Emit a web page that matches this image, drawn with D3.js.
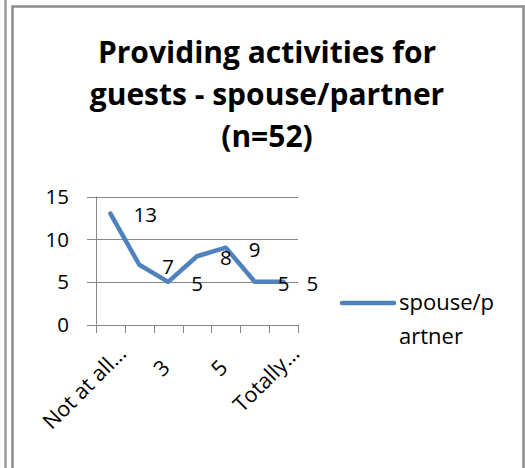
<!DOCTYPE html>
<html>
<head>
<meta charset="utf-8">
<script src="https://cdn.jsdelivr.net/npm/d3@7"></script>
<style>
  body { margin: 0; background: white; }
  svg { display: block; }
  text { font-family: "Open Sans", sans-serif; fill: #000; }
</style>
</head>
<body>
<div id="container"></div>
<script>
let w = 525;
let h = 468;

// DATA
let categories = ["Not at all…", "2", "3", "4", "5", "6", "Totally…"];
let values = [13, 7, 5, 8, 9, 5, 5];
let yTicks = [0, 5, 10, 15];
let seriesName = "spouse/partner";
let titleLines = ["Providing activities for", "guests - spouse/partner", "(n=52)"];

let viz = d3.select("#container").append("svg")
    .attr("width", w)
    .attr("height", h)
;

// frame lines
viz.append("line")
    .attr("x1", 5.5).attr("x2", 5.5).attr("y1", 0).attr("y2", h)
    .attr("stroke", "#999").attr("stroke-width", 2.5);
viz.append("rect")
    .attr("x", 12.5).attr("y", 6.5)
    .attr("width", 511).attr("height", h + 20)
    .attr("fill", "white")
    .attr("stroke", "#8c8c8c").attr("stroke-width", 2.5);

// TITLE
viz.selectAll(".title").data(titleLines).enter()
  .append("text")
    .attr("class", "title")
    .attr("x", 267)
    .attr("y", function(d, i) { return 63 + i * 42; })
    .attr("text-anchor", "middle")
    .style("font-weight", "bold")
    .style("font-size", "30px")
    .text(function(d) { return d; })
;

// SCALES
let xScale = d3.scaleBand().domain(categories).range([96, 298]);
let yScale = d3.scaleLinear().domain([0, 15]).range([324.5, 196.5]);
let cx = function(d) { return xScale(d) + xScale.bandwidth() / 2; };

// gridlines
viz.selectAll(".grid").data(yTicks).enter()
  .append("line")
    .attr("x1", 87).attr("x2", 298)
    .attr("y1", function(d) { return Math.round(yScale(d)) + 0.5; })
    .attr("y2", function(d) { return Math.round(yScale(d)) + 0.5; })
    .attr("stroke", "#868686")
;
// y axis line
viz.append("line")
    .attr("x1", 96.5).attr("x2", 96.5)
    .attr("y1", yScale(15)).attr("y2", yScale(0))
    .attr("stroke", "#868686");

// x ticks
let tickPos = categories.map(function(d) { return xScale(d); }).concat([298]);
viz.selectAll(".xtick").data(tickPos).enter()
  .append("line")
    .attr("x1", function(d) { return Math.round(d) + 0.5; })
    .attr("x2", function(d) { return Math.round(d) + 0.5; })
    .attr("y1", 325).attr("y2", 333)
    .attr("stroke", "#868686");

// y labels
viz.selectAll(".ylab").data(yTicks).enter()
  .append("text")
    .attr("x", 69)
    .attr("y", function(d) { return yScale(d); })
    .attr("dy", "0.36em")
    .attr("text-anchor", "end")
    .style("font-size", "20.5px")
    .text(function(d) { return d; });

// x labels, every other one
viz.selectAll(".xlab").data(categories.filter(function(d, i) { return i % 2 == 0; })).enter()
  .append("text")
    .attr("text-anchor", "end")
    .style("font-size", "21.5px")
    .attr("transform", function(d) {
      let shift = d.endsWith("…") ? 20 : 0;
      let x = cx(d) + 3 + shift * 0.707;
      let y = 369 - shift * 0.707;
      return "translate(" + x + "," + y + ") rotate(-45)";
    })
    .text(function(d) { return d; });

// LINE
let lineMaker = d3.line()
    .x(function(d, i) { return cx(categories[i]); })
    .y(function(d) { return yScale(d); });

viz.append("path")
    .datum(values)
    .attr("d", lineMaker)
    .attr("fill", "none")
    .attr("stroke", "#4F81BD")
    .attr("stroke-width", 4.5)
    .attr("stroke-linejoin", "round")
    .attr("stroke-linecap", "round");

// data labels
viz.selectAll(".dlab").data(values).enter()
  .append("text")
    .attr("x", function(d, i) { return cx(categories[i]) + 23; })
    .attr("y", function(d) { return yScale(d) + 1.5; })
    .attr("dy", "0.36em")
    .style("font-size", "20.5px")
    .text(function(d) { return d; });

// LEGEND
viz.append("line")
    .attr("x1", 342).attr("x2", 394)
    .attr("y1", 303).attr("y2", 303)
    .attr("stroke", "#4F81BD").attr("stroke-width", 4.5)
    .attr("stroke-linecap", "round");
let legendText = viz.append("text")
    .attr("x", 399).attr("y", 310)
    .style("font-size", "22px");
legendText.append("tspan").attr("x", 399).text(seriesName.slice(0, 8));
legendText.append("tspan").attr("x", 399).attr("dy", 34).text(seriesName.slice(8));
</script>
</body>
</html>
